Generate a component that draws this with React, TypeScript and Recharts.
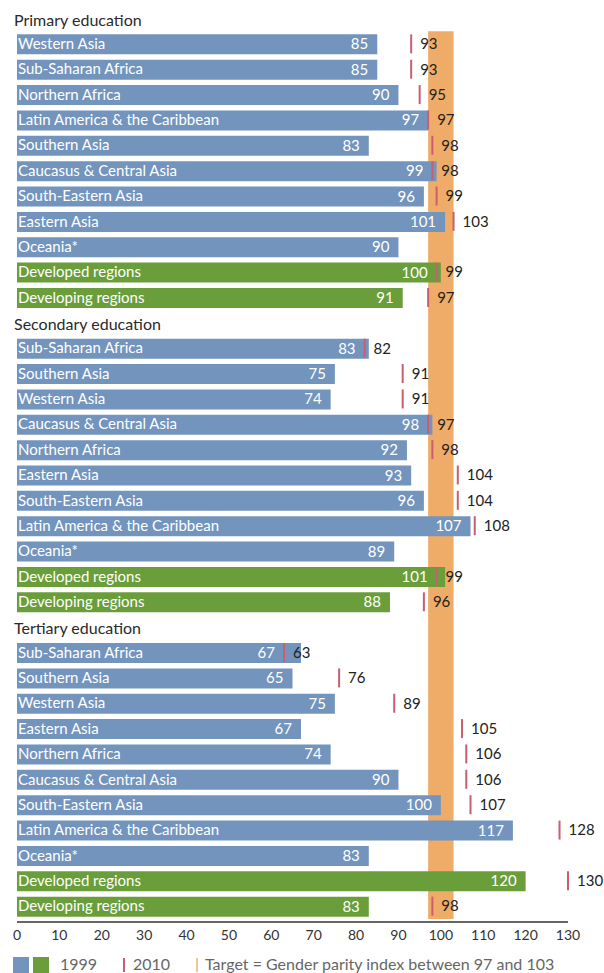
import React from 'react'
import {
  ComposedChart,
  Bar,
  Cell,
  XAxis,
  YAxis,
  ReferenceArea,
  LabelList,
} from 'recharts'

const SECTIONS = ['Primary education', 'Secondary education', 'Tertiary education']

const primaryRegions = [
  'Western Asia',
  'Sub-Saharan Africa',
  'Northern Africa',
  'Latin America & the Caribbean',
  'Southern Asia',
  'Caucasus & Central Asia',
  'South-Eastern Asia',
  'Eastern Asia',
  'Oceania*',
  'Developed regions',
  'Developing regions',
]
const primary1999 = [85, 85, 90, 97, 83, 99, 96, 101, 90, 100, 91]
const primary2010 = [93, 93, 95, 97, 98, 98, 99, 103, null, 99, 97]

const secondaryRegions = [
  'Sub-Saharan Africa',
  'Southern Asia',
  'Western Asia',
  'Caucasus & Central Asia',
  'Northern Africa',
  'Eastern Asia',
  'South-Eastern Asia',
  'Latin America & the Caribbean',
  'Oceania*',
  'Developed regions',
  'Developing regions',
]
const secondary1999 = [83, 75, 74, 98, 92, 93, 96, 107, 89, 101, 88]
const secondary2010 = [82, 91, 91, 97, 98, 104, 104, 108, null, 99, 96]

const tertiaryRegions = [
  'Sub-Saharan Africa',
  'Southern Asia',
  'Western Asia',
  'Eastern Asia',
  'Northern Africa',
  'Caucasus & Central Asia',
  'South-Eastern Asia',
  'Latin America & the Caribbean',
  'Oceania*',
  'Developed regions',
  'Developing regions',
]
const tertiary1999 = [67, 65, 75, 67, 74, 90, 100, 117, 83, 120, 83]
const tertiary2010 = [63, 76, 89, 105, 106, 106, 107, 128, null, 130, 98]

const X_TICKS = [0, 10, 20, 30, 40, 50, 60, 70, 80, 90, 100, 110, 120, 130]
const TARGET = [97, 103]

const BLUE = '#7394bd'
const GREEN = '#6a9e3b'
const ORANGE = '#efac68'
const RED = '#c95f6e'

type Row = {
  key: string
  title?: string
  name?: string
  v1999?: number
  v2010?: number | null
}

const sectionData: [string, string[], number[], (number | null)[]][] = [
  ['p', primaryRegions, primary1999, primary2010],
  ['s', secondaryRegions, secondary1999, secondary2010],
  ['t', tertiaryRegions, tertiary1999, tertiary2010],
]

const rows: Row[] = []
sectionData.forEach(([prefix, names, a, b], si) => {
  rows.push({ key: 'title-' + prefix, title: SECTIONS[si] })
  names.forEach((n, i) => {
    rows.push({ key: prefix + i, name: n, v1999: a[i], v2010: b[i] })
  })
})
const rowByKey: Record<string, Row> = {}
rows.forEach((r) => (rowByKey[r.key] = r))

function RowTick(props: any) {
  const { x, y, payload } = props
  const row = rowByKey[payload.value]
  if (!row) return null
  if (row.title) {
    return (
      <text x={x - 3} y={y} dy={7} fill="#2a2a2a" fontSize={16} textAnchor="start">
        {row.title}
      </text>
    )
  }
  return (
    <text x={x + 1} y={y} dy={5} fill="#ffffff" fontSize={15} textAnchor="start">
      {row.name}
    </text>
  )
}

function Marker(props: any) {
  const { x, y, width, height, payload } = props
  if (payload == null || payload.v2010 == null) return <g />
  return <rect x={x + width - 1} y={y} width={2} height={height} fill={RED} />
}

// 1999 value sits just left of the bar end, or of the 2010 mark if that falls inside the bar
function ValueLabel(props: any) {
  const { x, y, width, height, value } = props
  const row = rowByKey[value]
  if (!row || row.v1999 == null) return null
  let right = x + width
  if (row.v2010 != null && row.v2010 < row.v1999) {
    right = x + (row.v2010 * width) / row.v1999
  }
  return (
    <text x={right - 9} y={y + height / 2} dy={5} fill="#fff" fontSize={15} textAnchor="end">
      {row.v1999}
    </text>
  )
}

export default function App() {
  return (
    <div style={{ position: 'absolute', left: 0, top: 0, width: 604, height: 973, fontFamily: 'Lato, sans-serif', background: '#fff' }}>
      <ComposedChart
        width={604}
        height={973}
        data={rows}
        layout="vertical"
        margin={{ top: 6, right: 36, bottom: 21, left: 0 }}
      >
        <XAxis
          type="number"
          domain={[0, 130]}
          ticks={X_TICKS}
          interval={0}
          tickLine={false}
          axisLine={{ stroke: '#333', strokeWidth: 1.5 }}
          tick={{ fill: '#333', fontSize: 14 }}
          height={30}
        />
        <YAxis
          yAxisId="b"
          type="category"
          dataKey="key"
          hide
          padding={{ top: 0, bottom: 3 }}
        />
        <ReferenceArea
          x1={TARGET[0]}
          x2={TARGET[1]}
          y1="p0"
          fill={ORANGE}
          fillOpacity={1}
          stroke="none"
        />
        <Bar dataKey="v1999" barSize={20} isAnimationActive={false}>
          {rows.map((r) => (
            <Cell key={r.key} fill={r.name && r.name.includes('regions') ? GREEN : BLUE} />
          ))}
          <LabelList dataKey="key" content={<ValueLabel />} />
        </Bar>
        <Bar
          dataKey="v2010"
          yAxisId="b"
          barSize={19}
          shape={<Marker />}
          isAnimationActive={false}
        >
          <LabelList dataKey="v2010" position="right" offset={9} fill="#222" fontSize={15} />
        </Bar>
        <YAxis
          type="category"
          dataKey="key"
          width={17}
          interval={0}
          tickSize={0}
          tickMargin={0}
          axisLine={false}
          tickLine={false}
          padding={{ top: 0, bottom: 3 }}
          tick={<RowTick />}
        />
      </ComposedChart>
      <div style={{ position: 'absolute', left: 0, top: 955, width: 604, height: 18, fontSize: 16, color: '#666' }}>
        <span style={{ position: 'absolute', left: 13, top: 2, width: 16, height: 16, background: BLUE }} />
        <span style={{ position: 'absolute', left: 33, top: 2, width: 16, height: 16, background: GREEN }} />
        <span style={{ position: 'absolute', left: 60, top: 0, lineHeight: '18px' }}>1999</span>
        <span style={{ position: 'absolute', left: 123, top: 3, width: 2, height: 14, background: RED }} />
        <span style={{ position: 'absolute', left: 133, top: 0, lineHeight: '18px' }}>2010</span>
        <span style={{ position: 'absolute', left: 196, top: 3, width: 2, height: 14, background: '#f4c394' }} />
        <span style={{ position: 'absolute', left: 205, top: 0, lineHeight: '18px' }}>
          Target = Gender parity index between 97 and 103
        </span>
      </div>
    </div>
  )
}
